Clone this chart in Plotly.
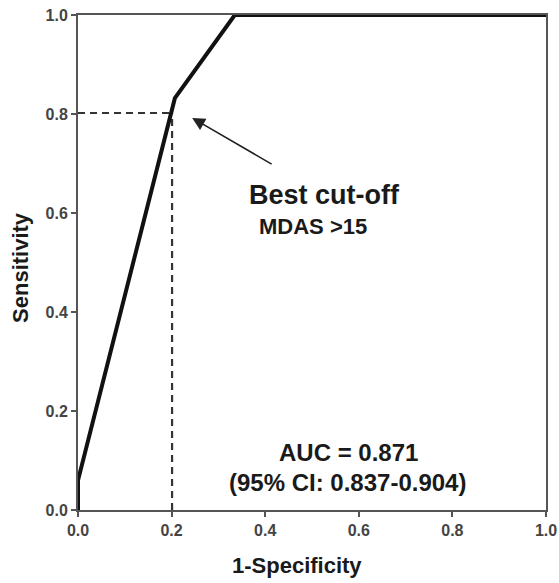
import plotly.graph_objects as go

# ROC curve points (1-specificity, sensitivity)
fpr = [0.0, 0.0, 0.207, 0.335, 0.6, 1.0]
tpr = [0.0, 0.06, 0.832, 1.0, 1.0, 1.0]

# best cut-off
cut_x = 0.201
cut_y = 0.802

tick_vals = [0.0, 0.2, 0.4, 0.6, 0.8, 1.0]
tick_text = ["0.0", "0.2", "0.4", "0.6", "0.8", "1.0"]

FONT = "Liberation Sans, Arial, sans-serif"

fig = go.Figure()

# dashed reference lines for the cut-off
fig.add_trace(go.Scatter(x=[0, cut_x], y=[cut_y, cut_y], mode="lines",
                         line=dict(color="#333333", width=2.2, dash="7px,5px"),
                         hoverinfo="skip", showlegend=False))
fig.add_trace(go.Scatter(x=[cut_x, cut_x], y=[0, cut_y], mode="lines",
                         line=dict(color="#333333", width=2.2, dash="7px,5px"),
                         hoverinfo="skip", showlegend=False))

# ROC curve
fig.add_trace(go.Scatter(x=fpr, y=tpr, mode="lines",
                         line=dict(color="#111111", width=4),
                         showlegend=False, cliponaxis=False))

# arrow
fig.add_annotation(x=0.244, y=0.792, ax=0.417, ay=0.697,
                   xref="x", yref="y", axref="x", ayref="y",
                   showarrow=True, arrowhead=2, arrowsize=1.6, arrowwidth=1.6,
                   arrowcolor="#222222", text="")

fig.add_annotation(x=0.526, y=0.636, xref="x", yref="y", text="<b>Best cut-off</b>",
                   showarrow=False, font=dict(family=FONT, size=27, color="#1a1a1a"))
fig.add_annotation(x=0.502, y=0.572, xref="x", yref="y", text="<b>MDAS >15</b>",
                   showarrow=False, font=dict(family=FONT, size=22, color="#1a1a1a"))

fig.add_annotation(x=0.577, y=0.116, xref="x", yref="y", text="<b>AUC = 0.871</b>",
                   showarrow=False, font=dict(family=FONT, size=24, color="#1a1a1a"))
fig.add_annotation(x=0.575, y=0.056, xref="x", yref="y",
                   text="<b>(95% CI: 0.837-0.904)</b>",
                   showarrow=False, font=dict(family=FONT, size=24, color="#1a1a1a"))

# axis titles
fig.add_annotation(x=0.468, y=0, xref="paper", yref="paper", yshift=-55,
                   xanchor="center", yanchor="middle",
                   text="<b>1-Specificity</b>", showarrow=False,
                   font=dict(family=FONT, size=22, color="#1a1a1a"))
fig.add_annotation(x=0, y=0.489, xref="paper", yref="paper", xshift=-57,
                   xanchor="center", yanchor="middle",
                   text="<b>Sensitivity</b>", textangle=-90, showarrow=False,
                   font=dict(family=FONT, size=22, color="#1a1a1a"))

axis_common = dict(
    range=[0, 1], tickvals=tick_vals, ticktext=tick_text,
    showgrid=False, zeroline=False, showline=True, linecolor="#555555",
    linewidth=2, mirror=True, ticks="outside", ticklen=5, tickwidth=2,
    tickcolor="#555555", automargin=False,
    tickfont=dict(family=FONT, size=16, color="#444444", weight="bold"),
)

fig.update_layout(
    width=559, height=583,
    margin=dict(l=78, r=13, t=15, b=73),
    plot_bgcolor="white", paper_bgcolor="white",
    hovermode=False,
    xaxis=dict(**axis_common),
    yaxis=dict(**axis_common),
)

# remove the page's default 8px body margin so the figure fills the window
fig.write_html("out.html", config={"displayModeBar": False},
               post_script="document.body.style.margin='0';")
